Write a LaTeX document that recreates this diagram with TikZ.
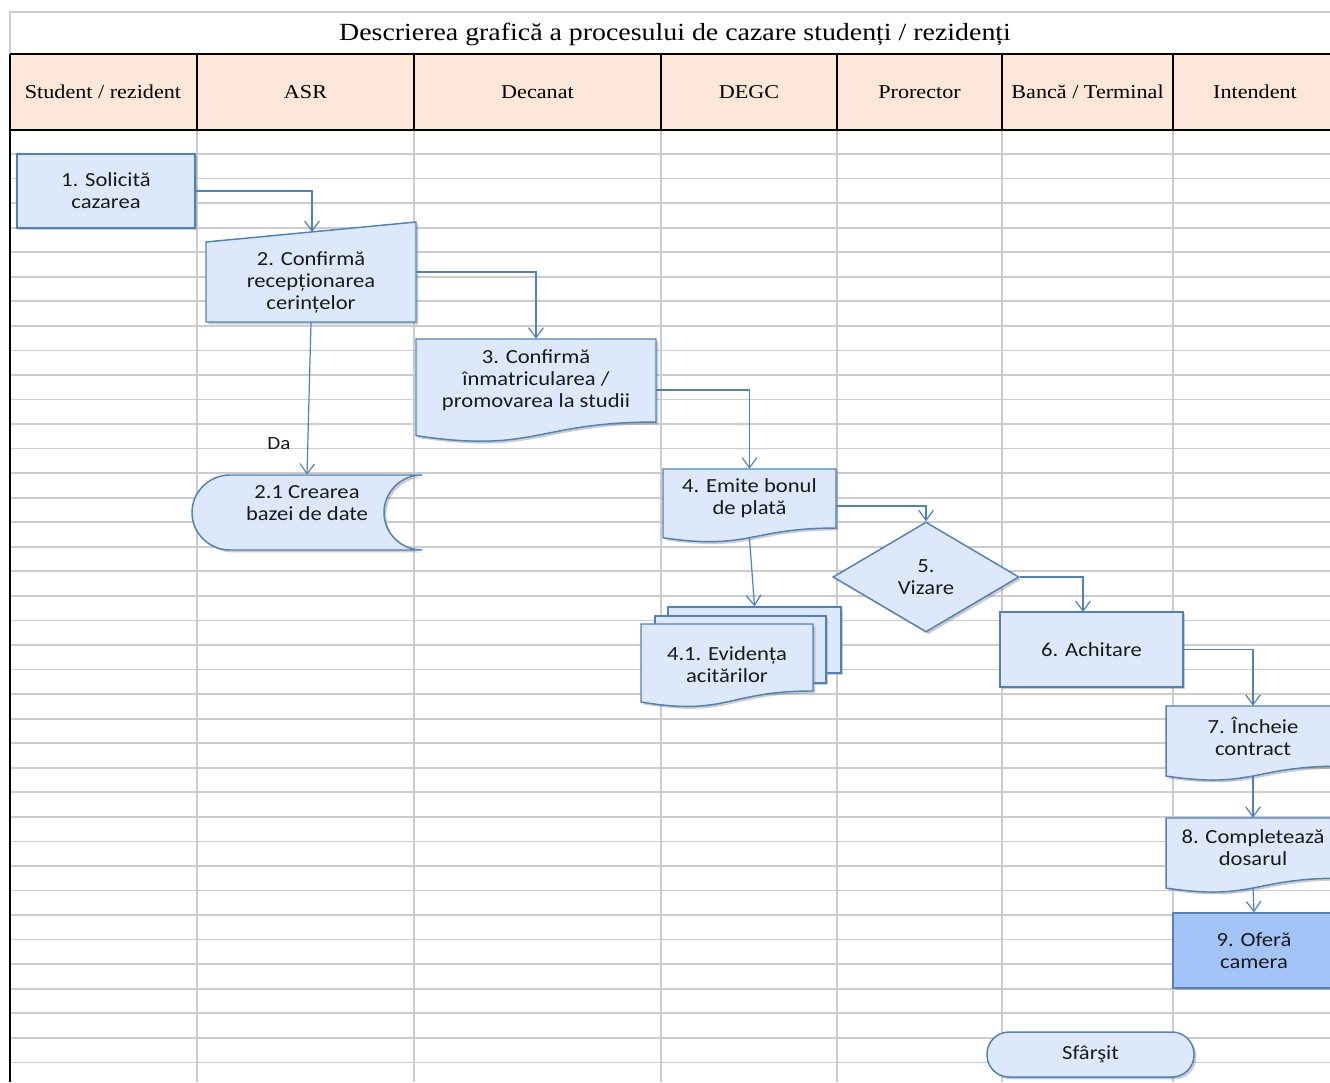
\documentclass[tikz,border=0pt]{standalone}
\usepackage{fontspec}
\setmainfont[FakeStretch=1.13]{Liberation Serif}
\newfontfamily\nodefnt[FakeStretch=1.13]{Carlito}
\usetikzlibrary{arrows.meta,shapes.geometric,shadows,calc}
\definecolor{hdrfill}{RGB}{252,231,216}
\definecolor{gridgray}{RGB}{204,204,204}
\definecolor{boxfill}{RGB}{221,233,251}
\definecolor{boxline}{RGB}{79,129,189}
\definecolor{darkfill}{RGB}{163,196,247}
\tikzset{
 shp/.style={draw=boxline, fill=boxfill, line width=1.1pt, drop shadow={shadow xshift=1.8pt,shadow yshift=-1.8pt,opacity=0.4}},
 txt/.style={font=\nodefnt\fontsize{15}{16.5}\selectfont, align=center, inner sep=0pt, text=black!90},
 conn/.style={draw=boxline, line width=0.9pt, -{Straight Barb[length=7.5pt,width=11pt,line width=0.9pt]}},
 hdr/.style={font=\fontsize{14.7}{17}\selectfont, inner sep=0pt},
 gridl/.style={draw=gridgray, line width=1.3pt},
 blk/.style={draw=black, line width=2pt},
}
\newcommand\docshape[5]{\draw[#5] (#1,#2) -- (#3,#2) -- (#3,{#2+0.802*#4}) .. controls ({(#1+#3)/2},{#2+0.802*#4}) and ({(#1+#3)/2},{#2+1.1075*#4}) .. (#1,{#2+0.934*#4}) -- cycle;}
\begin{document}
\begin{tikzpicture}[x=0.75pt,y=-0.75pt]
\useasboundingbox (0,0) rectangle (1330,1082);
\clip (0,0) rectangle (1330,1082);
% title row
\draw[gridl] (10,54) -- (10,12) -- (1330,12);
\node[font=\fontsize{18.5}{21}\selectfont, inner sep=0pt] (title) at (675,34.5) {Descrierea grafică a procesului de cazare studenți / rezidenți};
% header
\fill[hdrfill] (10,54) rectangle (1330,130);
% grid
\foreach \k in {0,...,37} \draw[gridl] (10,{154+24.55*\k}) -- (1330,{154+24.55*\k});
\foreach \x in {197,414,661,837,1002,1173} \draw[gridl] (\x,130) -- (\x,1082);
\draw[blk] (10,54) -- (1330,54);
\draw[blk] (10,130) -- (1330,130);
\foreach \x in {197,414,661,837,1002,1173} \draw[blk] (\x,54) -- (\x,130);
\draw[blk] (10,54) -- (10,1082);
\node[hdr] (h1) at (103,92) {Student / rezident};
\node[hdr] (h2) at (305.5,92) {ASR};
\node[hdr] (h3) at (537.5,92) {Decanat};
\node[hdr] (h4) at (749,92) {DEGC};
\node[hdr] (h5) at (919.5,92) {Prorector};
\node[hdr] (h6) at (1087.5,92) {Bancă / Terminal};
\node[hdr] (h7) at (1255,92) {Intendent};
% 1
\node[shp, txt, minimum width=133.5pt, minimum height=55.5pt] (n1) at (106,191) {1. Solicită\\cazarea};
% 2
\draw[shp] (206,242) -- (416,222) -- (416,322) -- (206,322) -- cycle;
\node[txt, minimum width=157.5pt, minimum height=60pt] (n2) at (311,282) {2. Confirmă\\recepționarea\\cerințelor};
\coordinate (n2in) at (312,232);
\coordinate (n2out) at (416,272);
% 3
\docshape{416}{339}{656}{103.5}{shp}
\node[txt, minimum width=180pt, minimum height=62.25pt] (n3) at (536,380.5) {3. Confirmă\\înmatricularea /\\promovarea la studii};
\coordinate (n3out) at (656,390);
% 2.1
\draw[shp] (230,475) -- (422,475) arc[start angle=90,end angle=270,x radius=28.5pt,y radius=28.125pt] -- (230,550) arc[start angle=270,end angle=90,x radius=28.5pt,y radius=28.125pt] -- cycle;
\node[txt, minimum width=150pt, minimum height=42pt] (n21) at (307,503) {2.1 Crearea\\bazei de date};
% 4
\docshape{663}{469}{836}{73.6}{shp}
\node[txt, minimum width=129.75pt, minimum height=44.25pt] (n4) at (749.5,498.5) {4. Emite bonul\\de plată};
\coordinate (n4out) at (836,506);
\coordinate (n4bot) at (749.5,538);
% 4.1
\node[shp, minimum width=129.75pt, minimum height=49.5pt, inner sep=0pt] (n41b) at (754.5,640) {};
\node[shp, minimum width=128.25pt, minimum height=50.25pt, inner sep=0pt] (n41m) at (740.5,649.5) {};
\docshape{641}{624}{813}{83.5}{shp}
\node[txt, minimum width=129pt, minimum height=40pt] (n41) at (727,665) {4.1. Evidența\\acitărilor};
% 5
\node[shp, txt, diamond, minimum width=139.5pt, minimum height=82.5pt] (n5) at (926,577) {5.\\Vizare};
% 6
\node[shp, txt, minimum width=137.25pt, minimum height=56.25pt] (n6) at (1091.5,649.5) {6. Achitare};
\coordinate (n6in) at (1083,612);
% 7
\docshape{1166}{706}{1340}{75}{shp}
\node[txt, minimum width=130pt, minimum height=45pt] (n7) at (1253,736) {7. Încheie\\contract};
\coordinate (n7bot) at (1253,776);
% 8
\docshape{1166}{818}{1340}{75}{shp}
\node[txt, minimum width=130pt, minimum height=45pt] (n8) at (1253,848) {8. Completează\\dosarul};
\coordinate (n8bot) at (1253,888);
% 9
\node[shp, txt, fill=darkfill, minimum width=121.5pt, minimum height=56.25pt] (n9) at (1254,950.5) {9. Oferă\\camera};
% end
\node[shp, txt, rounded corners=16.5pt, minimum width=155.25pt, minimum height=33.75pt] (nend) at (1090.5,1054.5) {Sfârşit};
% connectors
\draw[conn] (n1.east) -| (n2in);
\draw[conn] (n2out) -| (n3.north);
\draw[conn] (n2.south) -- (n21.north);
\node[txt, font=\nodefnt\fontsize{14}{15}\selectfont] (da) at (279,444) {Da};
\draw[conn] (n3out) -| (n4.north);
\draw[conn] (n4out) -| (n5.north);
\draw[conn] (n4bot) -- (n41b.north);
\draw[conn] (n5.east) -| (n6in);
\draw[conn] (n6.east) -| (n7.north);
\draw[conn] (n7bot) -- (n8.north);
\draw[conn] (n8bot) -- (n9.north);
\end{tikzpicture}
\end{document}
